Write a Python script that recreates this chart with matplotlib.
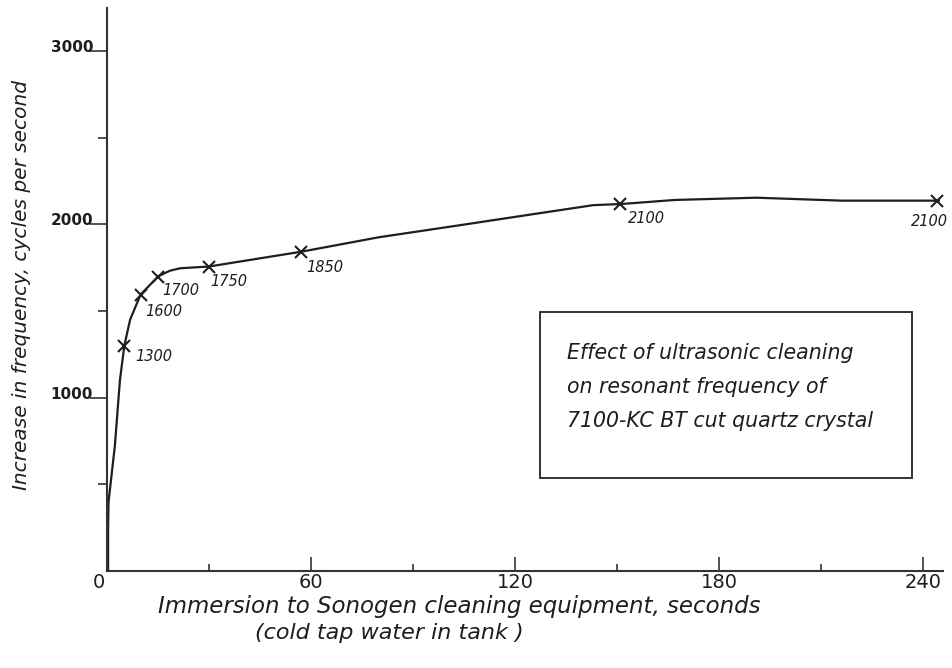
import numpy as np
import matplotlib
matplotlib.use("Agg")
import matplotlib.pyplot as plt
import matplotlib.transforms as mtrans
from matplotlib.patches import Rectangle

# measured points (seconds, Hz) and the numbers written beside them
time_s = [5, 10, 15, 30, 57, 151, 244]
freq_hz = [1295, 1593, 1698, 1756, 1841, 2117, 2136]
point_labels = ["1300", "1600", "1700", "1750", "1850", "2100", "2100"]

# hand drawn curve
curve_x = [0, 0.4, 2.3, 3.8, 5.1, 6.8, 9.9, 15.1, 18.5, 21.5, 30, 42, 57,
           80, 104, 127, 143, 151.5, 167, 191, 216, 244.7]
curve_y = [0, 390, 720, 1100, 1300, 1450, 1595, 1700, 1732, 1746, 1756, 1794,
           1841, 1925, 1995, 2063, 2110, 2117, 2140, 2153, 2136, 2136]

xticks = [0, 60, 120, 180, 240]
xminor = [30, 90, 150, 210]
yticks = [1000, 2000, 3000]
yminor = [500, 1500, 2500]

ink = "#1e1e1e"
plt.rcParams["font.family"] = "DejaVu Sans"

fig = plt.figure(figsize=(9.52, 6.68), dpi=100)
ax = fig.add_axes([0.1124, 0.1452, 0.8786, 0.8428])
ax.set_xlim(0, 246)
ax.set_ylim(0, 3247)

for s in ["top", "right"]:
    ax.spines[s].set_visible(False)
for s in ["left", "bottom"]:
    ax.spines[s].set_color("#333333")
    ax.spines[s].set_linewidth(1.5)

ax.plot(curve_x, curve_y, color=ink, lw=1.6, solid_capstyle="round")
ax.plot(time_s, freq_hz, ls="none", marker="x", ms=9, mew=1.5, color=ink)
ax.plot([0, 0], [0, 390], color=ink, lw=3.2)

# label offsets in pixels (dx, dy) from the marker
offs = [(11, -10), (4, -17), (4, -14), (1, -15), (5, -16), (8, -15), (11, -21)]
for i in range(len(time_s)):
    dx, dy = offs[i]
    ha = "right" if i == len(time_s) - 1 else "left"
    ax.annotate(point_labels[i], (time_s[i], freq_hz[i]),
                xytext=(dx * 0.72, dy * 0.72), textcoords="offset points",
                ha=ha, va="center", fontsize=10.5, style="italic", color=ink)

ax.set_xticks(xticks)
ax.set_xticks(xminor, minor=True)
ax.set_xticklabels([str(v) for v in xticks], fontsize=14, color=ink)
ax.tick_params(axis="x", which="major", direction="in", length=10, width=1.2,
               pad=1.5, colors="#333333", labelcolor=ink)
ax.tick_params(axis="x", which="minor", direction="in", length=5, width=1.2,
               colors="#333333")

ax.set_yticks(yticks)
ax.set_yticks(yminor, minor=True)
ax.set_yticklabels([str(v) for v in yticks], fontsize=11, fontweight="bold",
                   color=ink)
ax.tick_params(axis="y", which="major", direction="out", length=12, width=1.2,
               pad=-2, colors="#333333", labelcolor=ink)
ax.tick_params(axis="y", which="minor", direction="out", length=6.5, width=1.2,
               colors="#333333")

# y tick labels sit just above their ticks
up = mtrans.ScaledTranslation(0, 5 / 100, fig.dpi_scale_trans)
for lab in ax.get_yticklabels():
    lab.set_transform(lab.get_transform() + up)
left = mtrans.ScaledTranslation(-8 / 100, 0, fig.dpi_scale_trans)
ax.get_xticklabels()[0].set_transform(ax.get_xticklabels()[0].get_transform() + left)

W, H = 952, 668
fig.text(158 / W, 1 - 607 / H, "Immersion to Sonogen cleaning equipment, seconds",
         ha="left", va="center", fontsize=16.5, style="italic", color=ink)
fig.text(255 / W, 1 - 633 / H, "(cold tap water in tank )",
         ha="left", va="center", fontsize=16, style="italic", color=ink)
fig.text(22 / W, 1 - 285 / H, "Increase in frequency, cycles per second",
         ha="center", va="center", rotation=90, fontsize=14.5, style="italic",
         color=ink)

box = Rectangle((540 / W, 1 - 478 / H), (912 - 540) / W, (478 - 312) / H,
                transform=fig.transFigure, fill=False, ec="#333333", lw=1.4)
fig.add_artist(box)
box_lines = ["Effect of ultrasonic cleaning", "on resonant frequency of",
             "7100-KC BT cut quartz crystal"]
for k, t in enumerate(box_lines):
    fig.text(567 / W, 1 - (353 + 34 * k) / H, t, ha="left", va="center",
             fontsize=14.8, style="italic", color=ink)

fig.savefig("out.png", dpi=100, facecolor="white")
